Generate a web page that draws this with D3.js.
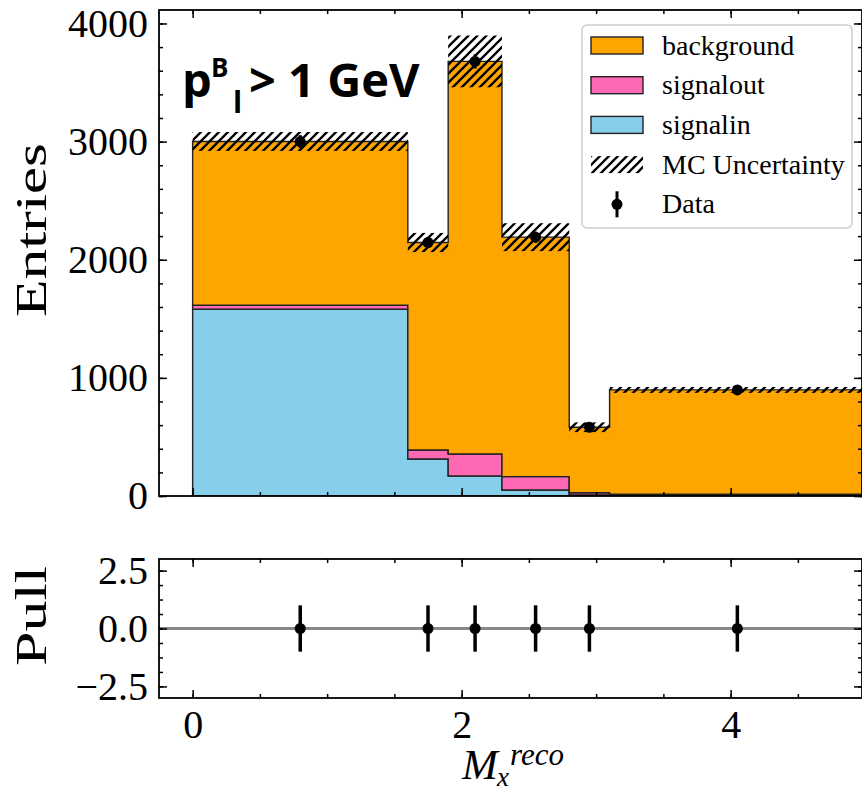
<!DOCTYPE html>
<html>
<head>
<meta charset="utf-8">
<script src="https://cdn.jsdelivr.net/npm/d3@7"></script>
<style>
  body { margin: 0; background: #fff; }
  svg { display: block; }
</style>
</head>
<body>
<div id="chart"></div>
<script>
var binEdges = [0, 1.6, 1.9, 2.3, 2.8, 3.1, 5.0]
var signalin = [1581, 313, 169, 51, 8, 5]
var signalout = [34, 77, 187, 113, 20, 10]
var background = [1386, 1756, 3323, 2027, 554, 883]
var mcUnc = [80, 81, 219, 118, 41, 25]

var dataCenters = [0.8, 1.75, 2.1, 2.55, 2.95, 4.05]
var dataValues = [3000, 2146, 3679, 2191, 582, 898]
var pullValues = [0, 0, 0, 0, 0, 0]
var pullErrors = [1, 1, 1, 1, 1, 1]

var yTicks = [0, 1000, 2000, 3000, 4000]
var yMinor = d3.range(0, 4101, 200)
var pullTicks = [-2.5, 0, 2.5]
var pullMinor = d3.range(-2.5, 2.51, 0.625)
var xTicks = [0, 2, 4]
var xMinor = d3.range(0, 5.01, 0.5)

var layerKeys = ["signalin", "signalout", "background"]
var layerColors = ["#87ceeb", "#ff69b4", "#ffa500"]
var legendLabels = ["background", "signalout", "signalin", "MC Uncertainty", "Data"]

var width = 862
var height = 792
var serif = "'Liberation Serif', 'Times New Roman', serif"

var svg = d3.select("#chart").append("svg")
  .attr("width", width)
  .attr("height", height)

var defs = svg.append("defs")
defs.append("pattern")
  .attr("id", "hatch")
  .attr("patternUnits", "userSpaceOnUse")
  .attr("width", 9)
  .attr("height", 9)
  .append("path")
  .attr("d", "M-2,2 l4,-4 M0,9 l9,-9 M7,11 l4,-4")
  .attr("stroke", "#000")
  .attr("stroke-width", 2.3)

var left = 159, right = 862
var x = d3.scaleLinear()
  .domain([-0.25, -0.25 + (right - left) / 134.5])
  .range([left, right])

var y = d3.scaleLinear().domain([0, 4114]).range([496, 10])
var yp = d3.scaleLinear().domain([-3, 3]).range([698, 559])

defs.append("clipPath").attr("id", "clipMain")
  .append("rect").attr("x", left).attr("y", 10).attr("width", right - left).attr("height", 486)

// stacked histogram
var rows = background.map(function (d, i) {
  return { signalin: signalin[i], signalout: signalout[i], background: background[i] }
})
var series = d3.stack().keys(layerKeys)(rows)

var area = d3.area()
  .curve(d3.curveStepAfter)
  .x(function (d, i) { return x(binEdges[i]) })
  .y0(function (d) { return y(d[0]) })
  .y1(function (d) { return y(d[1]) })

var main = svg.append("g").attr("clip-path", "url(#clipMain)")

main.selectAll("path.layer")
  .data(series)
  .enter()
  .append("path")
  .attr("class", "layer")
  .attr("d", function (s) { return area(s.concat([s[s.length - 1]])) })
  .attr("fill", function (s, i) { return layerColors[i] })
  .attr("stroke", "#222")
  .attr("stroke-width", 1.4)

// MC uncertainty band
var totals = rows.map(function (r) { return r.signalin + r.signalout + r.background })
main.selectAll("rect.unc")
  .data(totals)
  .enter()
  .append("rect")
  .attr("class", "unc")
  .attr("x", function (d, i) { return x(binEdges[i]) })
  .attr("width", function (d, i) { return x(binEdges[i + 1]) - x(binEdges[i]) })
  .attr("y", function (d, i) { return y(d + mcUnc[i]) })
  .attr("height", function (d, i) { return y(d - mcUnc[i]) - y(d + mcUnc[i]) })
  .attr("fill", "url(#hatch)")

// data points
main.selectAll("line.err")
  .data(dataValues)
  .enter()
  .append("line")
  .attr("class", "err")
  .attr("x1", function (d, i) { return x(dataCenters[i]) })
  .attr("x2", function (d, i) { return x(dataCenters[i]) })
  .attr("y1", function (d) { return y(d + Math.sqrt(d)) })
  .attr("y2", function (d) { return y(d - Math.sqrt(d)) })
  .attr("stroke", "#000")
  .attr("stroke-width", 3)

main.selectAll("circle.pt")
  .data(dataValues)
  .enter()
  .append("circle")
  .attr("class", "pt")
  .attr("cx", function (d, i) { return x(dataCenters[i]) })
  .attr("cy", function (d) { return y(d) })
  .attr("r", 5.5)
  .attr("fill", "#000")

// pull panel
svg.append("line")
  .attr("x1", left).attr("x2", right)
  .attr("y1", yp(0)).attr("y2", yp(0))
  .attr("stroke", "#888")
  .attr("stroke-width", 3)

svg.selectAll("line.perr")
  .data(pullValues)
  .enter()
  .append("line")
  .attr("class", "perr")
  .attr("x1", function (d, i) { return x(dataCenters[i]) })
  .attr("x2", function (d, i) { return x(dataCenters[i]) })
  .attr("y1", function (d, i) { return yp(d + pullErrors[i]) })
  .attr("y2", function (d, i) { return yp(d - pullErrors[i]) })
  .attr("stroke", "#000")
  .attr("stroke-width", 3.5)

svg.selectAll("circle.ppt")
  .data(pullValues)
  .enter()
  .append("circle")
  .attr("class", "ppt")
  .attr("cx", function (d, i) { return x(dataCenters[i]) })
  .attr("cy", function (d) { return yp(d) })
  .attr("r", 5.5)
  .attr("fill", "#000")

// axes with inward ticks on all sides
function frame(yScale, top, bottom, yMaj, yMin, yFmt, showX) {
  var g = svg.append("g")
  g.append("g").attr("transform", "translate(" + left + ",0)")
    .call(d3.axisLeft(yScale).tickValues(yMin).tickSize(-4).tickFormat(""))
  g.append("g").attr("transform", "translate(" + left + ",0)")
    .call(d3.axisLeft(yScale).tickValues(yMaj).tickSize(-8).tickPadding(11).tickFormat(yFmt))
  g.append("g").attr("transform", "translate(" + right + ",0)")
    .call(d3.axisRight(yScale).tickValues(yMin).tickSize(-4).tickFormat(""))
  g.append("g").attr("transform", "translate(" + right + ",0)")
    .call(d3.axisRight(yScale).tickValues(yMaj).tickSize(-8).tickFormat(""))
  g.append("g").attr("transform", "translate(0," + top + ")")
    .call(d3.axisTop(x).tickValues(xMinor).tickSize(-4).tickFormat(""))
  g.append("g").attr("transform", "translate(0," + top + ")")
    .call(d3.axisTop(x).tickValues(xTicks).tickSize(-8).tickFormat(""))
  g.append("g").attr("transform", "translate(0," + bottom + ")")
    .call(d3.axisBottom(x).tickValues(xMinor).tickSize(-4).tickFormat(""))
  g.append("g").attr("transform", "translate(0," + bottom + ")")
    .call(d3.axisBottom(x).tickValues(xTicks).tickSize(-8).tickPadding(12)
      .tickFormat(showX ? d3.format("d") : ""))
  g.selectAll(".domain").remove()
  g.selectAll(".tick line").attr("stroke", "#000").attr("stroke-width", 1.5)
  g.selectAll("text")
    .attr("font-family", serif)
    .attr("font-size", 40)
    .attr("fill", "#000")
  g.append("rect")
    .attr("x", left).attr("y", top)
    .attr("width", right - left).attr("height", bottom - top)
    .attr("fill", "none")
    .attr("stroke", "#000")
    .attr("stroke-width", 1.8)
}

frame(y, 10, 496, yTicks, yMinor, d3.format("d"), false)
frame(yp, 559, 698, pullTicks, pullMinor, d3.format(".1f"), true)

// axis labels
svg.append("text")
  .attr("transform", "translate(46,230) rotate(-90)")
  .attr("text-anchor", "middle")
  .attr("font-family", serif)
  .attr("font-size", 44)
  .attr("textLength", 174)
  .attr("lengthAdjust", "spacingAndGlyphs")
  .text("Entries")

svg.append("text")
  .attr("transform", "translate(46,616) rotate(-90)")
  .attr("text-anchor", "middle")
  .attr("font-family", serif)
  .attr("font-size", 44)
  .attr("textLength", 100)
  .attr("lengthAdjust", "spacingAndGlyphs")
  .text("Pull")

// x label as one text with super/subscript
var xlab = svg.append("text")
  .attr("font-family", serif)
  .attr("font-style", "italic")
  .attr("fill", "#000")
xlab.append("tspan").attr("x", 462).attr("y", 779).attr("font-size", 43).text("M")
xlab.append("tspan").attr("x", 510).attr("y", 765).attr("font-size", 31).text("reco")
xlab.append("tspan").attr("x", 497).attr("y", 786).attr("font-size", 27).text("x")

// title
var title = svg.append("text")
  .attr("font-family", "'Open Sans', 'Noto Sans', sans-serif")
  .attr("font-weight", "bold")
  .attr("fill", "#000")
title.append("tspan").attr("x", 182).attr("y", 97).attr("font-size", 47).text("p")
title.append("tspan").attr("x", 211).attr("y", 77).attr("font-size", 26).text("B")
title.append("tspan").attr("x", 233).attr("y", 113).attr("font-size", 30).text("l")
title.append("tspan").attr("x", 249).attr("y", 97).attr("font-size", 47).text("> 1 GeV")

// legend
var legend = svg.append("g")
legend.append("rect")
  .attr("x", 582).attr("y", 25)
  .attr("width", 270).attr("height", 203)
  .attr("rx", 5)
  .attr("fill", "#fff")
  .attr("fill-opacity", 0.85)
  .attr("stroke", "#cccccc")
  .attr("stroke-width", 1.5)

var rowY = function (i) { return 45.5 + i * 39.7 }
var swatchFill = [layerColors[2], layerColors[1], layerColors[0], "url(#hatch)"]

legend.selectAll("rect.sw")
  .data(swatchFill)
  .enter()
  .append("rect")
  .attr("class", "sw")
  .attr("x", 591).attr("width", 52)
  .attr("y", function (d, i) { return rowY(i) - 8.5 })
  .attr("height", 17)
  .attr("fill", function (d) { return d })
  .attr("stroke", function (d, i) { return i < 3 ? "#222" : "none" })
  .attr("stroke-width", 1.4)

legend.append("line")
  .attr("x1", 617).attr("x2", 617)
  .attr("y1", rowY(4) - 13).attr("y2", rowY(4) + 13)
  .attr("stroke", "#000").attr("stroke-width", 3)
legend.append("circle")
  .attr("cx", 617).attr("cy", rowY(4)).attr("r", 5.5).attr("fill", "#000")

legend.selectAll("text")
  .data(legendLabels)
  .enter()
  .append("text")
  .attr("x", 662)
  .attr("y", function (d, i) { return rowY(i) + 9 })
  .attr("font-family", serif)
  .attr("font-size", 28)
  .attr("fill", "#000")
  .text(function (d) { return d })
</script>
</body>
</html>
